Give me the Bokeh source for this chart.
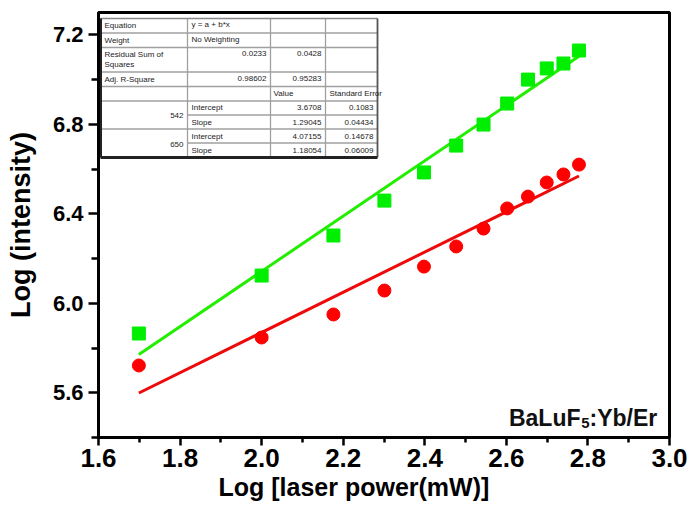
from bokeh.plotting import figure
from bokeh.models import Range1d, FixedTicker, NumeralTickFormatter, Title
from bokeh.core.properties import value
from bokeh.embed import file_html
from bokeh.resources import INLINE

# ---------------- data ----------------
log_power = [1.699, 2.000, 2.176, 2.301, 2.398, 2.477, 2.544, 2.602, 2.653, 2.699, 2.740, 2.778]
log_int_542 = [5.865, 6.124, 6.303, 6.459, 6.585, 6.705, 6.799, 6.893, 7.000, 7.050, 7.072, 7.130]
log_int_650 = [5.722, 5.847, 5.950, 6.057, 6.164, 6.254, 6.334, 6.424, 6.477, 6.540, 6.576, 6.620]

fit_intercepts = [3.6708, 4.07155]   # 542, 650
fit_slopes = [1.236, 0.899]          # slopes of the drawn fit lines

x_ticks = [1.6, 1.8, 2.0, 2.2, 2.4, 2.6, 2.8, 3.0]
x_minor = [1.7, 1.9, 2.1, 2.3, 2.5, 2.7, 2.9]
y_ticks = [5.6, 6.0, 6.4, 6.8, 7.2]
y_minor = [5.4, 5.8, 6.2, 6.6, 7.0]

x_title = "Log [laser power(mW)]"
y_title = "Log (intensity)"

# fit-result table (text as in the figure)
tbl_col1 = ["Equation", "Weight", "Residual Sum of", "Squares", "Adj. R-Square"]
tbl_equation = "y = a + b*x"
tbl_weight = "No Weighting"
tbl_rss = ["0.0233", "0.0428"]
tbl_r2 = ["0.98602", "0.95283"]
tbl_head = ["Value", "Standard Error"]
tbl_groups = ["542", "650"]
tbl_params = ["Intercept", "Slope", "Intercept", "Slope"]
tbl_values = ["3.6708", "1.29045", "4.07155", "1.18054"]
tbl_errors = ["0.1083", "0.04434", "0.14678", "0.06009"]

sample_main = "BaLuF"
sample_sub = "5"
sample_tail = ":Yb/Er"

# ---------------- figure ----------------
X0, X1, Y0, Y1 = 1.6, 3.0, 5.4, 7.3
W, H = 688, 504
FL, FR, FT, FB = 98, 669, 12, 437     # frame edges in page pixels
FONT = "Liberation Sans"

p = figure(width=W, height=H, x_range=Range1d(X0, X1), y_range=Range1d(Y0, Y1),
           output_backend="svg", toolbar_location=None,
           min_border_left=FL, min_border_right=W - FR, min_border_top=FT, min_border_bottom=H - FB)
p.background_fill_color = "white"
p.border_fill_color = "white"
p.grid.visible = False
p.outline_line_color = "black"
p.outline_line_width = 3

def X(px):
    return X0 + (px - FL) * (X1 - X0) / (FR - FL)
def Y(py):
    return Y1 - (py - FT) * (Y1 - Y0) / (FB - FT)

for ax in (p.xaxis[0], p.yaxis[0]):
    ax.axis_line_width = 3
    ax.major_tick_line_width = 2.5
    ax.minor_tick_line_width = 2.5
    ax.major_tick_in = 0
    ax.minor_tick_in = 0
    ax.major_label_text_font = FONT
    ax.major_label_text_font_style = "bold"
    ax.major_label_text_color = "black"
    ax.axis_label_text_font = FONT
    ax.axis_label_text_font_style = "bold"
    ax.axis_label_text_color = "black"
    ax.formatter = NumeralTickFormatter(format="0.0")

xa, ya = p.xaxis[0], p.yaxis[0]
xa.ticker = FixedTicker(ticks=x_ticks, minor_ticks=x_minor)
ya.ticker = FixedTicker(ticks=y_ticks, minor_ticks=y_minor)
xa.major_tick_out = 8
xa.minor_tick_out = 5
ya.major_tick_out = 10
ya.minor_tick_out = 7
xa.major_label_text_font_size = "26px"
ya.major_label_text_font_size = "22px"
xa.major_label_standoff = 3
ya.major_label_standoff = 5
ya.axis_label = y_title
ya.axis_label_text_font_size = "27px"
ya.axis_label_standoff = 14

# x-axis title (slightly left of centre, as in the reference)
p.add_layout(Title(text=x_title, align="left", offset=120, standoff=3,
                   text_font=FONT, text_font_size="25px", text_font_style="bold",
                   text_color="black"), "below")

# ---------------- fit lines ----------------
xs_fit = [log_power[0], log_power[-1]]
line_colors = ["#22ee00", "#ee0a0a"]
for a, b, c in zip(fit_intercepts, fit_slopes, line_colors):
    p.line(xs_fit, [a + b * xv for xv in xs_fit], line_color=c, line_width=3)

# ---------------- markers ----------------
p.scatter(log_power, log_int_542, marker="square", size=13, fill_color="#00ee00", line_color="#00ee00")
p.scatter(log_power, log_int_650, marker="circle", size=13, fill_color="#ff0000", line_color="#ff0000")

# ---------------- table ----------------
cx = [100, 187, 270, 325, 377]
ry = [18, 32.5, 47, 71.5, 86, 100.5, 114.5, 128.5, 142.5, 157]
p.quad(left=[X(cx[0])], right=[X(cx[-1])], top=[Y(ry[0])], bottom=[Y(ry[-1])],
       fill_color="white", line_color=None)
hx0, hx1, hy = [], [], []
for i in range(1, len(ry) - 1):
    start = cx[1] if i in (6, 8) else cx[0]
    hx0.append(X(start)); hx1.append(X(cx[-1])); hy.append(Y(ry[i]))
p.segment(x0=hx0, y0=hy, x1=hx1, y1=hy, line_color="#a0a0a0", line_width=1.3)
vx = [X(c) for c in cx[1:-1]]
p.segment(x0=vx, y0=[Y(ry[0])] * len(vx), x1=vx, y1=[Y(ry[-1])] * len(vx),
          line_color="#a0a0a0", line_width=1.3)
p.segment(x0=[X(cx[0])], y0=[Y(ry[0])], x1=[X(cx[-1])], y1=[Y(ry[0])], line_color="#888888", line_width=1.3)
p.segment(x0=[X(cx[-1])], y0=[Y(ry[0])], x1=[X(cx[-1])], y1=[Y(ry[-1])], line_color="#555555", line_width=1.8)
p.segment(x0=[X(cx[0])], y0=[Y(ry[0])], x1=[X(cx[0])], y1=[Y(ry[-1])], line_color="#222222", line_width=3)
p.segment(x0=[X(cx[0])], y0=[Y(ry[-1])], x1=[X(cx[-1])], y1=[Y(ry[-1])], line_color="#222222", line_width=3)

def cell_text(texts, pxs, pys, align):
    p.text(x=[X(v) for v in pxs], y=[Y(v) for v in pys], text=texts,
           text_font=value(FONT), text_font_size="8px", text_color="#222222",
           text_align=align, text_baseline="middle")

cell_text(tbl_col1, [104] * 5, [25, 39.5, 54, 63.5, 78.5], "left")
cell_text([tbl_equation, tbl_weight], [191, 191], [24, 39], "left")
cell_text([tbl_rss[0], tbl_r2[0]], [266, 266], [53, 78], "right")
cell_text([tbl_rss[1], tbl_r2[1]], [321, 321], [53, 78], "right")
cell_text(tbl_head, [273, 329], [92.5, 92.5], "left")
cell_text(tbl_params, [191] * 4, [107, 121.5, 135.5, 150], "left")
cell_text(tbl_values, [321] * 4, [107, 121.5, 135.5, 150], "right")
cell_text(tbl_errors, [373] * 4, [107, 121.5, 135.5, 150], "right")
cell_text(tbl_groups, [183, 183], [114.5, 143.5], "right")

# ---------------- sample label ----------------
base_py = 417
p.text(x=[X(589)], y=[Y(base_py)], text=[sample_tail], text_font=value(FONT),
       text_font_size="23px", text_font_style="bold", text_color="#111111",
       text_align="left", text_baseline="alphabetic")
p.text(x=[X(589)], y=[Y(base_py + 5)], text=[sample_sub], text_font=value(FONT),
       text_font_size="15px", text_font_style="bold", text_color="#111111",
       text_align="right", text_baseline="alphabetic")
p.text(x=[X(580)], y=[Y(base_py)], text=[sample_main], text_font=value(FONT),
       text_font_size="23px", text_font_style="bold", text_color="#111111",
       text_align="right", text_baseline="alphabetic")

open("out.html", "w").write(file_html(p, INLINE))
